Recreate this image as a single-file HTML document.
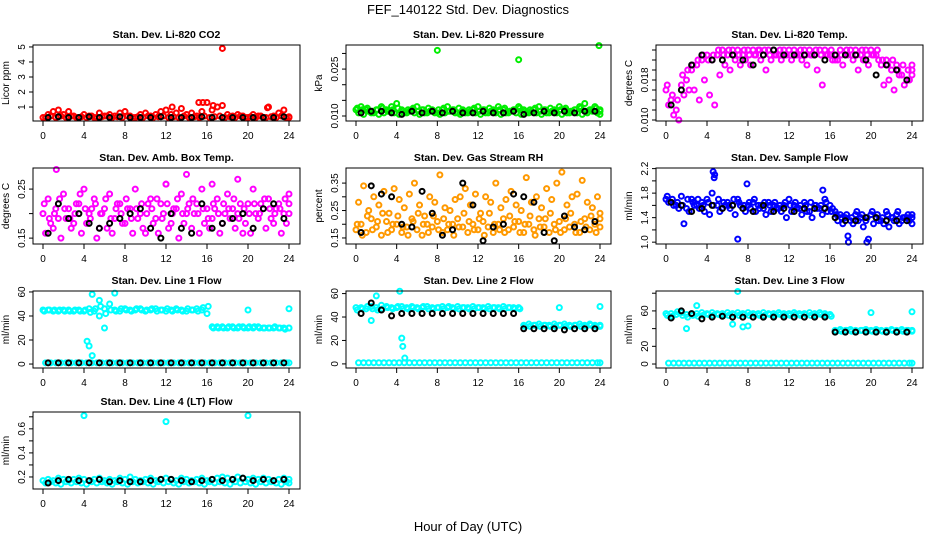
<!DOCTYPE html>
<html><head><meta charset="utf-8"><style>
html,body{margin:0;padding:0;background:#fff;}
svg{display:block;font-family:"Liberation Sans",sans-serif;}
</style></head><body>
<svg id="chart" width="936" height="540" viewBox="0 0 936 540">
<text x="468" y="14" text-anchor="middle" font-size="13">FEF_140122  Std. Dev. Diagnostics</text>
<text x="468" y="531" text-anchor="middle" font-size="13">Hour of Day (UTC)</text>
</svg>
<script>
const hours=[0,0.5,1,1.5,2,2.5,3,3.5,4,4.5,5,5.5,6,6.5,7,7.5,8,8.5,9,9.5,10,10.5,11,11.5,12,12.5,13,13.5,14,14.5,15,15.5,16,16.5,17,17.5,18,18.5,19,19.5,20,20.5,21,21.5,22,22.5,23,23.5,24];
const hoursB=[0.5,1.5,2.5,3.5,4.5,5.5,6.5,7.5,8.5,9.5,10.5,11.5,12.5,13.5,14.5,15.5,16.5,17.5,18.5,19.5,20.5,21.5,22.5,23.5];
const xTicks=[0,4,8,12,16,20,24];

const co2A=[0.3,0.5,0.7,0.8,0.5,0.7,0.4,0.3,0.5,0.4,0.3,0.6,0.4,0.5,0.4,0.6,0.7,0.4,0.3,0.5,0.6,0.4,0.5,0.7,0.8,0.5,0.6,0.9,0.5,0.6,0.4,0.7,1.3,0.8,1.0,1.1,0.5,0.4,0.5,0.4,0.3,0.5,0.4,0.3,1.0,0.4,0.6,0.8,0.3];
const co2B=[0.3,0.4,0.3,0.4,0.3,0.4,0.3,0.35,0.3,0.4,0.3,0.35,0.4,0.3,0.35,0.3,0.4,0.3,0.35,0.3,0.4,0.3,0.35,0.4,0.3,0.35,0.3,0.4,0.3,0.35,0.3,0.4,0.3,0.35,0.4,0.3,0.35,0.3,0.4,0.3,0.35,0.3,0.4,0.3,0.35,0.3,0.4,0.3,0.35];
const co2C=[];
const co2Black=[0.3,0.35,0.3,0.3,0.35,0.3,0.3,0.35,0.3,0.3,0.3,0.35,0.3,0.3,0.3,0.35,0.3,0.3,0.3,0.3,0.3,0.3,0.3,0.35];
const co2OutX=[17.5,15.2,15.6,16.6,12.6,21.9];
const co2OutY=[4.9,1.3,1.3,1.1,1.0,0.95];

const presA=[0.012,0.013,0.012,0.011,0.012,0.013,0.012,0.013,0.014,0.012,0.011,0.012,0.013,0.012,0.011,0.012,0.011,0.012,0.013,0.012,0.011,0.012,0.011,0.012,0.013,0.012,0.011,0.012,0.013,0.012,0.011,0.012,0.013,0.012,0.011,0.012,0.013,0.012,0.011,0.012,0.013,0.012,0.011,0.012,0.013,0.014,0.012,0.013,0.012];
const presB=[0.011,0.0105,0.0115,0.011,0.0105,0.011,0.0115,0.011,0.0105,0.011,0.0115,0.011,0.0105,0.011,0.0115,0.011,0.0105,0.011,0.0115,0.011,0.0105,0.011,0.0115,0.011,0.0105,0.011,0.0115,0.011,0.0105,0.011,0.0115,0.011,0.0105,0.011,0.0115,0.011,0.0105,0.011,0.0115,0.011,0.0105,0.011,0.0115,0.011,0.0105,0.011,0.0115,0.011,0.0105];
const presC=[0.0125,0.012,0.0125,0.0115,0.012,0.0125,0.0115,0.012,0.0125,0.0115,0.012,0.0125,0.0115,0.012,0.0125,0.0115,0.012,0.0125,0.0115,0.012,0.0125,0.0115,0.012,0.0125,0.0115,0.012,0.0125,0.0115,0.012,0.0125,0.0115,0.012,0.0125,0.0115,0.012,0.0125,0.0115,0.012,0.0125,0.0115,0.012,0.0125,0.0115,0.012,0.0125,0.0115,0.012,0.0125,0.0115];
const presBlack=[0.011,0.0115,0.0115,0.011,0.0105,0.0115,0.011,0.0115,0.011,0.0115,0.011,0.011,0.0115,0.011,0.011,0.0115,0.0105,0.011,0.0115,0.011,0.0115,0.011,0.0115,0.0115];
const presOutX=[8,16,23.9];
const presOutY=[0.031,0.028,0.0325];

const tempA=[0.016,0.014,0.012,0.017,0.018,0.020,0.021,0.022,0.023,0.022,0.023,0.024,0.023,0.024,0.024,0.023,0.024,0.024,0.024,0.023,0.024,0.024,0.023,0.024,0.024,0.024,0.023,0.024,0.024,0.023,0.024,0.024,0.023,0.022,0.024,0.023,0.024,0.024,0.023,0.024,0.024,0.023,0.021,0.022,0.020,0.021,0.019,0.018,0.020];
const tempB=[0.013,0.011,0.010,0.015,0.016,0.016,0.014,0.018,0.015,0.013,0.019,0.021,0.020,0.022,0.021,0.022,0.021,0.023,0.022,0.020,0.022,0.023,0.022,0.023,0.022,0.023,0.022,0.021,0.023,0.020,0.017,0.023,0.022,0.022,0.021,0.023,0.022,0.020,0.022,0.021,0.023,0.022,0.017,0.018,0.016,0.019,0.017,0.018,0.021];
const tempC=[0.017,0.015,0.014,0.019,0.020,0.021,0.022,0.023,0.022,0.023,0.024,0.023,0.024,0.023,0.023,0.024,0.023,0.023,0.024,0.024,0.023,0.023,0.024,0.023,0.023,0.023,0.024,0.023,0.023,0.024,0.023,0.023,0.024,0.023,0.023,0.024,0.023,0.023,0.024,0.023,0.023,0.024,0.022,0.021,0.022,0.020,0.021,0.020,0.019];
const tempBlack=[0.013,0.016,0.021,0.023,0.022,0.022,0.023,0.022,0.021,0.023,0.024,0.023,0.023,0.023,0.023,0.022,0.023,0.023,0.023,0.022,0.019,0.021,0.020,0.018];

const ambA=[0.2,0.23,0.17,0.19,0.24,0.21,0.18,0.22,0.25,0.2,0.23,0.17,0.21,0.24,0.19,0.22,0.18,0.21,0.25,0.2,0.16,0.23,0.19,0.22,0.26,0.18,0.21,0.24,0.2,0.17,0.22,0.25,0.21,0.19,0.23,0.18,0.24,0.21,0.2,0.16,0.22,0.25,0.19,0.21,0.23,0.18,0.22,0.2,0.24];
const ambB=[0.16,0.18,0.21,0.15,0.19,0.17,0.22,0.16,0.18,0.21,0.15,0.2,0.17,0.16,0.22,0.18,0.21,0.16,0.19,0.17,0.22,0.18,0.16,0.2,0.17,0.21,0.15,0.18,0.22,0.2,0.16,0.18,0.17,0.21,0.16,0.2,0.19,0.17,0.22,0.18,0.16,0.2,0.22,0.17,0.19,0.21,0.16,0.18,0.2];
const ambC=[0.22,0.19,0.2,0.23,0.21,0.19,0.2,0.24,0.21,0.19,0.22,0.2,0.23,0.19,0.21,0.2,0.23,0.19,0.21,0.22,0.2,0.21,0.23,0.19,0.22,0.2,0.23,0.2,0.21,0.23,0.2,0.21,0.19,0.22,0.2,0.22,0.21,0.23,0.19,0.21,0.2,0.22,0.2,0.23,0.21,0.2,0.21,0.23,0.22];
const ambBlack=[0.16,0.22,0.19,0.2,0.18,0.17,0.18,0.19,0.2,0.21,0.17,0.15,0.2,0.17,0.16,0.22,0.17,0.18,0.19,0.2,0.17,0.21,0.22,0.19];
const ambOutX=[1.3,14,19,12,16.5];
const ambOutY=[0.29,0.28,0.27,0.26,0.26];

const rhA=[0.18,0.2,0.17,0.22,0.19,0.16,0.21,0.18,0.2,0.17,0.19,0.22,0.18,0.16,0.2,0.19,0.21,0.17,0.18,0.2,0.22,0.19,0.17,0.2,0.18,0.21,0.19,0.17,0.2,0.22,0.18,0.19,0.21,0.17,0.2,0.18,0.22,0.19,0.17,0.2,0.21,0.18,0.19,0.2,0.17,0.22,0.18,0.2,0.19];
const rhB=[0.28,0.34,0.25,0.3,0.27,0.32,0.24,0.33,0.29,0.26,0.31,0.35,0.27,0.23,0.3,0.28,0.38,0.26,0.25,0.29,0.3,0.33,0.27,0.31,0.24,0.3,0.28,0.35,0.26,0.29,0.32,0.27,0.25,0.37,0.28,0.3,0.26,0.33,0.29,0.35,0.39,0.27,0.3,0.31,0.36,0.28,0.26,0.3,0.24];
const rhC=[0.2,0.16,0.23,0.18,0.21,0.24,0.17,0.2,0.23,0.19,0.16,0.21,0.24,0.2,0.17,0.23,0.18,0.22,0.2,0.16,0.19,0.24,0.21,0.18,0.22,0.16,0.24,0.2,0.18,0.17,0.23,0.21,0.17,0.2,0.23,0.16,0.19,0.22,0.24,0.18,0.17,0.22,0.24,0.17,0.21,0.19,0.23,0.17,0.22];
const rhBlack=[0.17,0.34,0.31,0.3,0.2,0.19,0.32,0.24,0.16,0.18,0.35,0.27,0.14,0.19,0.2,0.31,0.3,0.28,0.17,0.14,0.23,0.19,0.18,0.21];

const flowA=[1.7,1.65,1.6,1.75,1.55,1.7,1.6,1.65,1.7,1.8,1.6,1.55,1.65,1.6,1.7,1.55,1.6,1.65,1.6,1.55,1.65,1.6,1.55,1.6,1.7,1.6,1.55,1.65,1.5,1.6,1.55,1.7,1.6,1.5,1.45,1.4,1.35,1.45,1.4,1.35,1.45,1.4,1.35,1.5,1.4,1.45,1.35,1.4,1.45];
const flowB=[1.65,1.6,1.55,1.3,1.5,1.6,1.55,1.5,1.45,2.1,1.5,1.6,1.55,1.45,1.6,1.5,1.55,1.5,1.6,1.45,1.5,1.55,1.5,1.4,1.5,1.55,1.45,1.5,1.4,1.55,1.45,1.5,1.55,1.35,1.3,1.1,1.3,1.35,1.25,1.05,1.3,1.35,1.3,1.25,1.35,1.3,1.4,1.35,1.3];
const flowC=[1.75,1.7,1.65,1.6,1.7,1.65,1.7,1.6,1.65,1.6,1.7,1.65,1.6,1.7,1.65,1.6,1.65,1.7,1.55,1.65,1.6,1.65,1.6,1.65,1.6,1.65,1.6,1.6,1.65,1.6,1.6,1.65,1.5,1.45,1.4,1.45,1.4,1.5,1.45,1.4,1.5,1.45,1.4,1.45,1.4,1.5,1.4,1.45,1.4];
const flowBlack=[1.65,1.6,1.5,1.55,1.6,1.55,1.6,1.55,1.5,1.6,1.5,1.55,1.5,1.55,1.55,1.55,1.4,1.35,1.35,1.4,1.4,1.35,1.35,1.35];
const flowOutX=[4.6,4.7,7,7.9,15.3,19.6,17.8];
const flowOutY=[2.15,2.05,1.05,1.95,1.85,1.0,1.0];

const l1A=[45,45,44,44,45,45,44,45,44,46,44,40,46,50,45,44,46,45,45,46,44,45,46,45,44,45,46,45,44,45,46,45,42,31,31,31,30,31,30,31,30,30,31,30,30,30,30,30,30];
const l1B=[1,1,1,1,1,1,1,1,1,1,1,1,1,1,1,1,1,1,1,1,1,1,1,1,1,1,1,1,1,1,1,1,1,1,1,1,1,1,1,1,1,1,1,1,1,1,1,1,1];
const l1C=[44,45,45,45,44,44,45,44,45,43,46,48,42,45,44,46,45,44,46,45,45,46,44,45,46,44,45,44,46,45,44,47,48,30,30,30,31,30,31,30,31,31,30,30,30,31,30,29,30];
const l1Black=[1,1,1,1,1,1,1,1,1,1,1,1,1,1,1,1,1,1,1,1,1,1,1,1];
const l1OutX=[4.3,4.5,4.8,4.8,7,6,20,24,5.5];
const l1OutY=[19,15,7,58,59,30,45,46,53];

const l2A=[48,48,47,49,48,50,49,48,48,49,48,49,48,48,49,48,48,49,48,48,49,48,48,49,48,48,49,48,48,49,48,48,48,33,34,33,34,33,33,34,33,34,33,33,34,33,34,33,33];
const l2B=[1,1,1,1,1,1,1,1,1,1,1,1,1,1,1,1,1,1,1,1,1,1,1,1,1,1,1,1,1,1,1,1,1,1,1,1,1,1,1,1,1,1,1,1,1,1,1,1,1];
const l2C=[46,47,49,47,46,47,48,47,49,47,47,48,47,49,47,47,48,47,49,47,47,48,47,47,48,47,47,48,47,47,48,47,47,32,32,33,32,33,32,32,33,32,32,33,32,32,33,32,32];
const l2Black=[43,52,46,41,43,43,43,43,43,43,43,43,43,43,43,43,30,30,30,30,29,30,30,30];
const l2OutX=[4.3,4.5,4.6,4.8,2,20,24,1.5];
const l2OutY=[62,22,15,5,58,48,49,37];

const l3A=[57,57,56,58,56,57,57,58,57,58,57,57,58,57,58,57,58,57,57,58,57,57,58,57,57,58,57,57,58,57,58,57,56,38,39,38,39,38,38,39,38,39,38,38,39,38,39,38,38];
const l3B=[1,1,1,1,1,1,1,1,1,1,1,1,1,1,1,1,1,1,1,1,1,1,1,1,1,1,1,1,1,1,1,1,1,1,1,1,1,1,1,1,1,1,1,1,1,1,1,1,1];
const l3C=[55,54,59,55,53,55,54,55,56,55,56,55,55,56,55,56,55,56,55,55,56,55,56,55,55,56,55,56,55,55,56,55,54,37,37,38,37,37,38,37,37,38,37,37,38,37,37,38,37];
const l3Black=[52,60,57,51,53,54,53,53,53,53,53,53,53,53,53,53,36,36,36,36,36,36,36,36];
const l3OutX=[7,3,20,24,2,6.5,7.5,8];
const l3OutY=[82,66,58,59,40,45,42,43];

const l4A=[0.17,0.18,0.17,0.19,0.18,0.17,0.18,0.19,0.18,0.17,0.18,0.19,0.17,0.18,0.17,0.19,0.18,0.2,0.18,0.17,0.18,0.19,0.17,0.18,0.19,0.18,0.17,0.19,0.18,0.17,0.18,0.19,0.17,0.18,0.19,0.2,0.19,0.18,0.2,0.19,0.18,0.19,0.18,0.19,0.18,0.17,0.18,0.19,0.18];
const l4B=[0.15,0.16,0.15,0.14,0.16,0.15,0.16,0.15,0.14,0.16,0.15,0.16,0.15,0.14,0.16,0.15,0.14,0.16,0.15,0.16,0.15,0.14,0.16,0.15,0.16,0.15,0.14,0.16,0.15,0.16,0.15,0.14,0.16,0.15,0.16,0.15,0.14,0.16,0.15,0.16,0.15,0.14,0.16,0.15,0.16,0.15,0.14,0.16,0.15];
const l4C=[];
const l4Black=[0.15,0.17,0.18,0.17,0.17,0.18,0.16,0.17,0.16,0.16,0.17,0.18,0.18,0.17,0.16,0.17,0.18,0.17,0.18,0.19,0.17,0.18,0.17,0.18];
const l4OutX=[4,12,20];
const l4OutY=[0.71,0.66,0.71];

const panels=[
 {name:'co2',title:'Stan. Dev. Li-820 CO2',ylab:'Licor ppm',col:0,row:0,min:0.07,max:5.13,ticks:[1,2,3,4,5],labels:['1','2','3','4','5'],color:'#ff0000',a:co2A,b:co2B,c:co2C,k:co2Black,ox:co2OutX,oy:co2OutY},
 {name:'pressure',title:'Stan. Dev. Li-820 Pressure',ylab:'kPa',col:1,row:0,min:0.0084,max:0.0327,ticks:[0.010,0.015,0.020,0.025,0.030],labels:['0.010','','','0.025',''],color:'#00ee00',a:presA,b:presB,c:presC,k:presBlack,ox:presOutX,oy:presOutY},
 {name:'temp',title:'Stan. Dev. Li-820 Temp.',ylab:'degrees C',col:2,row:0,min:0.0098,max:0.0250,ticks:[0.010,0.012,0.014,0.016,0.018,0.020,0.022,0.024],labels:['0.010','','','','0.018','','',''],color:'#ff00ff',a:tempA,b:tempB,c:tempC,k:tempBlack,ox:[],oy:[]},
 {name:'amb-box-temp',title:'Stan. Dev. Amb. Box Temp.',ylab:'degrees C',col:0,row:1,min:0.138,max:0.293,ticks:[0.15,0.20,0.25],labels:['0.15','','0.25'],color:'#ff00ff',a:ambA,b:ambB,c:ambC,k:ambBlack,ox:ambOutX,oy:ambOutY},
 {name:'gas-stream-rh',title:'Stan. Dev. Gas Stream RH',ylab:'percent',col:1,row:1,min:0.128,max:0.405,ticks:[0.15,0.20,0.25,0.30,0.35],labels:['0.15','','0.25','','0.35'],color:'#ff9900',a:rhA,b:rhB,c:rhC,k:rhBlack,ox:[],oy:[]},
 {name:'sample-flow',title:'Stan. Dev. Sample Flow',ylab:'ml/min',col:2,row:1,min:0.97,max:2.21,ticks:[1.0,1.2,1.4,1.6,1.8,2.0,2.2],labels:['1.0','','1.4','','1.8','','2.2'],color:'#0000ff',a:flowA,b:flowB,c:flowC,k:flowBlack,ox:flowOutX,oy:flowOutY},
 {name:'line1-flow',title:'Stan. Dev. Line 1 Flow',ylab:'ml/min',col:0,row:2,min:-3.3,max:60.8,ticks:[0,20,40,60],labels:['0','20','40','60'],color:'#00ffff',a:l1A,b:l1B,c:l1C,k:l1Black,ox:l1OutX,oy:l1OutY},
 {name:'line2-flow',title:'Stan. Dev. Line 2 Flow',ylab:'ml/min',col:1,row:2,min:-3.5,max:62.2,ticks:[0,20,40,60],labels:['0','20','40','60'],color:'#00ffff',a:l2A,b:l2B,c:l2C,k:l2Black,ox:l2OutX,oy:l2OutY},
 {name:'line3-flow',title:'Stan. Dev. Line 3 Flow',ylab:'ml/min',col:2,row:2,min:-4.5,max:82.5,ticks:[0,20,40,60,80],labels:['0','20','','60',''],color:'#00ffff',a:l3A,b:l3B,c:l3C,k:l3Black,ox:l3OutX,oy:l3OutY},
 {name:'line4-flow',title:'Stan. Dev. Line 4 (LT) Flow',ylab:'ml/min',col:0,row:3,min:0.1,max:0.74,ticks:[0.2,0.3,0.4,0.5,0.6,0.7],labels:['0.2','','0.4','','0.6',''],color:'#00ffff',a:l4A,b:l4B,c:l4C,k:l4Black,ox:l4OutX,oy:l4OutY}
];
const colL=[33,346,656], colR=[300,611,923], rowT=[45,168,291,412], rowB=[121,244,368,489];
const svg=document.getElementById('chart');
const NS='http://www.w3.org/2000/svg';
function mk(tag,attrs,parent){const e=document.createElementNS(NS,tag);for(const k in attrs)e.setAttribute(k,attrs[k]);parent.appendChild(e);return e;}

panels.forEach(p=>{
  const L=colL[p.col],R=colR[p.col],T=rowT[p.row],B=rowB[p.row];
  const xs=h=>L+10+h*(R-L-21)/24;
  const ys=v=>B-(v-p.min)/(p.max-p.min)*(B-T);
  const g=mk('g',{},svg);
  
  
  const t=mk('text',{x:(L+R)/2,y:T-7,'text-anchor':'middle','font-size':'10.5','font-weight':'bold'},g);
  t.textContent=p.title;
  
  
  const yl=mk('text',{transform:`translate(${L-24},${(T+B)/2}) rotate(-90)`,'text-anchor':'middle','font-size':'10'},g);
  yl.textContent=p.ylab;
  
  
  const xa=mk('g',{},g);
  
  
  mk('line',{x1:xs(0),x2:xs(24),y1:B,y2:B,stroke:'#000'},xa);
  xTicks.forEach(h=>{
    mk('line',{x1:xs(h),x2:xs(h),y1:B,y2:B+5,stroke:'#000'},xa);
    const tl=mk('text',{x:xs(h),y:B+18,'text-anchor':'middle','font-size':'10'},xa);
    tl.textContent=h;
    
    
  });
  const ya=mk('g',{},g);
  
  
  p.ticks.forEach((v,i)=>{
    const y=ys(v); if(y<T-1||y>B+1)return;
    mk('line',{x1:L-4,x2:L,y1:y,y2:y,stroke:'#000'},ya);
    if(p.labels[i]){
      const tl=mk('text',{transform:`translate(${L-8},${y}) rotate(-90)`,'text-anchor':'middle','font-size':'10'},ya);
      tl.textContent=p.labels[i];
      
      
    }
  });
  const pts=mk('g',{fill:'none','stroke-width':'2'},g);
  
  
  const dot=(h,v,c)=>{const c1=mk('circle',{cx:xs(h),cy:ys(v),r:2.5,stroke:c},pts);
    
    };
  p.b.forEach((v,i)=>dot(Math.min(24,hours[i]+0.25),v,p.color));
  p.c.forEach((v,i)=>dot(Math.min(24,hours[i]+0.12),v,p.color));
  p.a.forEach((v,i)=>dot(hours[i],v,p.color));
  p.ox.forEach((h,i)=>dot(h,p.oy[i],p.color));
  p.k.forEach((v,i)=>dot(hoursB[i],v,'#000'));
  const box=mk('rect',{x:L,y:T,width:R-L,height:B-T,fill:'none',stroke:'#000'},g);
  
  
});
</script>
</body></html>
